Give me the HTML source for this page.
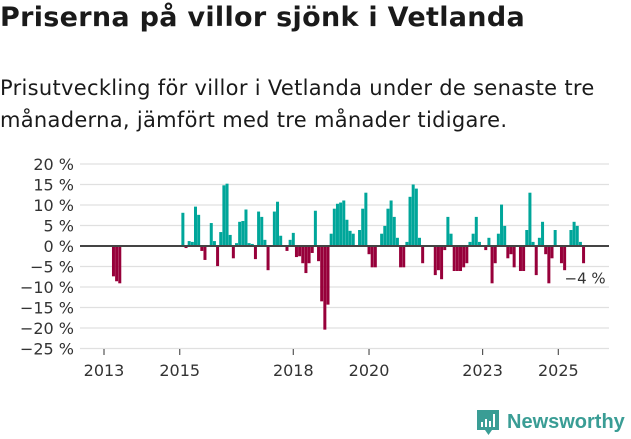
<!DOCTYPE html>
<html><head><meta charset="utf-8"><style>
body{margin:0;width:631px;height:439px;background:#fff;font-family:"Liberation Sans","DejaVu Sans",sans-serif;color:#1a1a1a;overflow:hidden;position:relative}
h1{position:absolute;left:0;top:2px;margin:0;font-family:"DejaVu Sans",sans-serif;font-size:27px;font-weight:bold;letter-spacing:0.3px;white-space:nowrap}
p.sub{position:absolute;left:0;top:72px;margin:0;font-family:"DejaVu Sans",sans-serif;font-size:21px;line-height:32px;width:605px;letter-spacing:0.3px}
svg{position:absolute;left:0;top:0}
</style></head><body>
<h1>Priserna på villor sjönk i Vetlanda</h1>
<p class="sub">Prisutveckling för villor i Vetlanda under de senaste tre månaderna, jämfört med tre månader tidigare.</p>
<svg id="chart" width="631" height="439"></svg>
<script>
const yTicks=[20,15,10,5,0,-5,-10,-15,-20,-25];
const xTickYears=[2013,2015,2018,2020,2023,2025];
const startYear=2013;
const changes={3:-7.4,4:-8.6,5:-9.1,
25:8.1,26:-0.5,27:1.2,28:1,29:9.6,30:7.6,31:-1.2,32:-3.4,34:5.6,35:1.2,36:-4.9,37:3.4,38:14.8,39:15.2,40:2.7,41:-3,42:0.7,43:5.9,44:6.1,45:8.9,46:0.7,47:0.5,48:-3.2,49:8.4,50:7.1,51:1.5,52:-5.9,54:8.4,55:10.8,56:2.5,58:-1.2,59:1.5,60:3.2,61:-2.7,62:-2.5,63:-4.2,64:-6.6,65:-4.2,66:-1.7,67:8.6,68:-3.7,69:-13.5,70:-20.4,71:-14.3,72:3,73:9.1,74:10.3,75:10.6,76:11.1,77:6.4,78:3.7,79:3,81:3.9,82:9.1,83:13,84:-2,85:-5.2,86:-5.2,88:3,89:4.9,90:9.1,91:11.1,92:7.1,93:2,94:-5.2,95:-5.2,96:1,97:12,98:15,99:14,100:2,101:-4.2,
105:-7.1,106:-5.9,107:-8.1,108:-1,109:7.1,110:3,111:-6.1,112:-6.1,113:-6.1,114:-5.2,115:-4.2,116:1,117:3,118:7.1,119:1,121:-1,122:2,123:-9.1,124:-4.2,125:3,126:10.1,127:4.9,128:-3,129:-2,130:-5.2,132:-6.1,133:-6.1,134:3.9,135:13,136:1,137:-7.1,138:2,139:5.9,140:-2,141:-9.1,142:-3,143:3.9,145:-4.2,146:-5.9,148:3.9,149:5.9,150:4.9,151:1,152:-4.2};
const lastLabel="\u22124 %";
const NS="http://www.w3.org/2000/svg";
const svg=document.getElementById('chart');
const x0=80,x1=609;
function y(v){return 246-v*4.1;}
function xm(m){return 104+m*3.155;}
function el(t,a){const e=document.createElementNS(NS,t);for(const k in a)e.setAttribute(k,a[k]);svg.appendChild(e);return e;}
yTicks.forEach(v=>{
 const g=el('line',{x1:x0,x2:x1,y1:y(v),y2:y(v),stroke:'#e0e0e0','stroke-width':1.2});
 
 
 const t=el('text',{x:74,y:y(v)+6,'text-anchor':'end','font-size':16,fill:'#333','font-family':'DejaVu Sans, sans-serif'});
 t.textContent=(v<0?'\u2212'+(-v):v)+' %';
 
 
});
xTickYears.forEach(yr=>{
 const xx=xm((yr-startYear)*12);
 const l=el('line',{x1:xx,x2:xx,y1:349,y2:355,stroke:'#555','stroke-width':1.2});
 
 
 const t=el('text',{x:xx,y:376,'text-anchor':'middle','font-size':16,fill:'#333','font-family':'DejaVu Sans, sans-serif'});
 t.textContent=yr;
 
 
});
let last=0;
Object.keys(changes).forEach(k=>{
 const m=+k,v=changes[k];if(v===null)return;last=Math.max(last,m);
 const r=el('rect',{x:xm(m)-1.5,width:3,y:v>=0?y(v):y(0),height:Math.abs(y(v)-y(0)),fill:v>=0?'#00a69a':'#97003a'});
 
 
});
const z=el('line',{x1:x0,x2:x1,y1:y(0),y2:y(0),stroke:'#444','stroke-width':2});


const lb=el('text',{x:xm(last)-19,y:y(-4)+21,'font-size':15,fill:'#333','font-family':'DejaVu Sans, sans-serif'});
lb.textContent=lastLabel;


</script>
<svg width="631" height="439" style="position:absolute;left:0;top:0;pointer-events:none">
<path d="M477 410h22v20h-7l-3.5 5-3.5-5h-8z" fill="#3a9d95"/>
<rect x="481" y="422" width="2" height="5" fill="#fff"/><rect x="485" y="419" width="2" height="8" fill="#fff"/><rect x="489" y="421" width="2" height="6" fill="#fff"/><rect x="493" y="414" width="2" height="13" fill="#fff"/>
<text x="507" y="428" font-size="20" font-weight="bold" fill="#3a9d95" font-family="Liberation Sans, sans-serif">Newsworthy</text>
</svg>
</body></html>
